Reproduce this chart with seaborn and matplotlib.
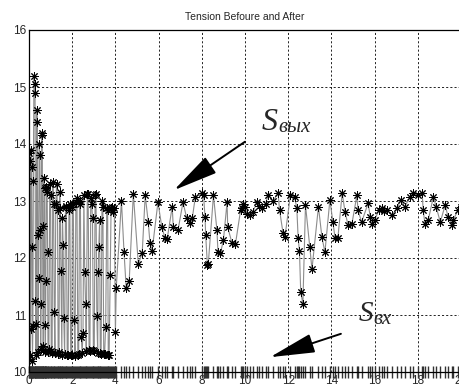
import numpy as np
import pandas as pd
import matplotlib
matplotlib.use("Agg")
import matplotlib.pyplot as plt
import seaborn as sns

# output tension, start-up part (dense sampling, 0..4)
t_start = [0.00, 0.02, 0.04, 0.06, 0.08, 0.10, 0.12, 0.14, 0.16, 0.18,
           0.20, 0.23, 0.26, 0.28, 0.30, 0.32, 0.34, 0.36, 0.38, 0.40,
           0.42, 0.44, 0.47, 0.50, 0.52, 0.54, 0.56, 0.58, 0.61, 0.63,
           0.65, 0.67, 0.69, 0.72, 0.74, 0.76, 0.78, 0.80, 0.84, 0.86,
           0.88, 0.92, 0.96, 1.00, 1.03, 1.07, 1.10, 1.14, 1.17, 1.20,
           1.24, 1.28, 1.32, 1.35, 1.39, 1.42, 1.45, 1.48, 1.52, 1.55,
           1.58, 1.61, 1.65, 1.69, 1.73, 1.77, 1.81, 1.85, 1.89, 1.93,
           1.97, 2.01, 2.05, 2.09, 2.13, 2.17, 2.22, 2.26, 2.30, 2.34,
           2.38, 2.42, 2.46, 2.50, 2.54, 2.58, 2.62, 2.65, 2.70, 2.74,
           2.78, 2.82, 2.86, 2.90, 2.94, 2.98, 3.02, 3.06, 3.10, 3.14,
           3.18, 3.20, 3.23, 3.27, 3.30, 3.34, 3.38, 3.42, 3.46, 3.50,
           3.55, 3.60, 3.64, 3.67, 3.71, 3.76, 3.80, 3.85, 3.90, 3.95]
s_start = [10.22, 13.85, 13.70, 10.30, 10.75, 13.90, 13.60, 12.20, 10.20, 10.80,
           13.35, 15.20, 15.05, 14.90, 11.25, 10.30, 10.85, 14.60, 14.38, 12.40,
           10.35, 11.65, 14.00, 13.80, 12.50, 10.40, 11.20, 14.15, 14.20, 12.57,
           10.38, 10.45, 13.40, 13.22, 10.82, 10.35, 11.60, 13.25, 13.15, 12.10,
           10.35, 10.40, 13.30, 13.10, 10.36, 10.34, 13.33, 12.95, 11.05, 10.33,
           12.95, 13.30, 12.85, 10.32, 10.35, 13.15, 12.88, 11.78, 10.30, 12.70,
           12.22, 10.94, 10.31, 12.92, 12.90, 10.30, 10.29, 12.85, 12.95, 10.30,
           10.29, 12.89, 12.95, 10.92, 10.28, 12.98, 13.05, 10.30, 10.32, 13.00,
           12.95, 10.62, 10.34, 10.69, 13.10, 11.75, 11.20, 10.36, 13.13, 13.12,
           10.38, 10.37, 13.05, 12.95, 12.71, 10.38, 10.36, 13.10, 13.13, 10.98,
           10.34, 11.75, 12.19, 12.66, 10.33, 10.32, 13.00, 12.90, 10.31, 10.32,
           10.79, 12.88, 12.85, 10.29, 10.30, 11.71, 12.87, 12.89, 12.80, 12.87]

# output tension, settled part (4..20)
t_late = [4.00, 4.04, 4.28, 4.40, 4.50, 4.64, 4.83, 5.06, 5.24, 5.38,
          5.52, 5.60, 5.70, 5.97, 6.15, 6.30, 6.40, 6.63, 6.68, 6.90,
          7.13, 7.30, 7.45, 7.56, 7.70, 8.00, 8.08, 8.15, 8.18, 8.26,
          8.30, 8.54, 8.70, 8.75, 8.86, 9.00, 9.17, 9.20, 9.40, 9.56,
          9.80, 9.86, 9.92, 10.00, 10.10, 10.23, 10.35, 10.56, 10.65, 10.80,
          10.95, 11.07, 11.30, 11.53, 11.60, 11.76, 11.85, 12.10, 12.30, 12.40,
          12.46, 12.52, 12.58, 12.68, 12.80, 13.00, 13.10, 13.40, 13.56, 13.70,
          13.93, 14.07, 14.17, 14.30, 14.50, 14.63, 14.77, 14.95, 15.18, 15.23,
          15.40, 15.70, 15.80, 15.88, 16.00, 16.20, 16.34, 16.45, 16.57, 16.80,
          17.04, 17.20, 17.40, 17.63, 17.80, 18.00, 18.20, 18.25, 18.33, 18.48,
          18.72, 18.85, 19.04, 19.27, 19.40, 19.58, 19.63, 19.86, 20.00]
s_late = [10.70, 11.48, 13.00, 12.10, 11.47, 11.60, 13.13, 11.90, 12.08, 13.10,
          12.63, 12.27, 12.13, 12.98, 12.54, 12.35, 12.34, 12.90, 12.54, 12.49,
          12.98, 12.70, 12.61, 12.70, 13.07, 13.14, 13.10, 12.72, 12.40, 11.87,
          11.90, 13.10, 12.49, 12.10, 12.08, 12.31, 12.98, 12.54, 12.26, 12.25,
          12.85, 12.87, 12.95, 12.90, 12.78, 12.75, 12.80, 12.98, 12.92, 12.87,
          12.95, 13.10, 13.00, 13.14, 12.84, 12.44, 12.37, 13.10, 13.07, 12.87,
          12.35, 12.13, 11.40, 11.20, 12.93, 12.19, 11.80, 12.90, 12.37, 12.10,
          13.02, 12.63, 12.35, 12.35, 13.14, 12.81, 12.58, 12.60, 13.10, 12.84,
          12.63, 12.96, 12.72, 12.60, 12.66, 12.85, 12.87, 12.82, 12.84, 12.75,
          12.87, 13.02, 12.90, 13.07, 13.14, 13.10, 13.14, 12.84, 12.60, 12.66,
          13.07, 12.90, 12.63, 12.93, 12.72, 12.58, 12.66, 12.84, 12.90]

s_in_level = 10.0  # input tension sits on the bottom axis

df = pd.DataFrame({"t": t_start + t_late, "s_out": s_start + s_late})
df["s_in"] = s_in_level

sns.set_style("white")
plt.rcParams["font.family"] = ["Liberation Sans", "DejaVu Sans"]

fig = plt.figure(figsize=(4.6, 3.88), dpi=100)
ax = fig.add_axes([29 / 460, 16 / 388, 432 / 460, 342 / 388])

# gray connecting line + black asterisks
sns.lineplot(data=df, x="t", y="s_out", sort=False, estimator=None,
             color="0.55", lw=0.8, ax=ax)
sns.lineplot(data=df, x="t", y="s_out", sort=False, estimator=None,
             linestyle="none", marker=(8, 2, 0), markersize=6,
             color="k", markeredgecolor="k", markeredgewidth=0.7, ax=ax)
# input series shown as ticks on the bottom axis
sns.lineplot(data=df, x="t", y="s_in", sort=False, estimator=None,
             linestyle="none", marker="|", markersize=8,
             color="0.2", markeredgecolor="0.2", markeredgewidth=1.0,
             clip_on=False, ax=ax)

ax.set_xlim(0, 20)
ax.set_ylim(10, 16)
ax.set_xticks(np.arange(0, 21, 2))
ax.set_yticks(np.arange(10, 17, 1))
ax.grid(True, color="k", linestyle=(0, (2.5, 2.5)), lw=0.6)
ax.tick_params(direction="in", length=4, width=0.8, labelsize=8.5, pad=2,
               top=False, right=False)
for side in ["left", "bottom", "top"]:
    ax.spines[side].set_color("k")
    ax.spines[side].set_linewidth(0.9)
ax.spines["right"].set_visible(False)
ax.set_xlabel("")
ax.set_ylabel("")
ax.set_title("Tension Befoure and After", fontsize=7.5, pad=7)

# arrows and labels
arrow = dict(arrowstyle="-|>,head_length=2.8,head_width=0.6",
             color="k", lw=1.4, mutation_scale=10, shrinkA=0, shrinkB=0)
ax.annotate("", xy=(6.71, 13.19), xytext=(10.0, 14.04), arrowprops=arrow)
ax.annotate("", xy=(11.16, 10.26), xytext=(14.44, 10.67), arrowprops=arrow)
serif = ["Liberation Serif", "DejaVu Serif"]
ax.text(10.75, 14.25, "S", fontsize=23, style="italic", family=serif)
ax.text(11.55, 14.21, "вых", fontsize=15, style="italic", family=serif)
ax.text(15.28, 10.89, "S", fontsize=21, style="italic", family=serif)
ax.text(15.95, 10.84, "вх", fontsize=15, style="italic", family=serif)

fig.savefig("out.png", dpi=100)
